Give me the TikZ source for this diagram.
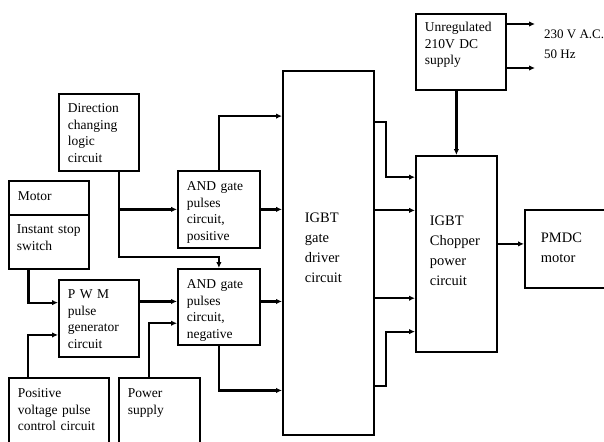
\documentclass[tikz,border=0pt]{standalone}
\usepackage{fontspec}
\setmainfont{Liberation Serif}
\usetikzlibrary{arrows.meta,positioning,calc}

\newcommand{\fsSmall}{\fontsize{13.5}{16.5}\selectfont}
\newcommand{\fsBig}{\fontsize{14.5}{20}\selectfont}

\begin{document}
\begin{tikzpicture}[x=1pt,y=1pt,
    blk/.style={draw,line width=1.8pt,anchor=north west,align=left,inner ysep=0pt,inner xsep=9pt,font=\fsSmall},
    arr/.style={-{Latex[length=6pt,width=5.5pt]},line width=2.2pt}
  ]
  \useasboundingbox (0,0) rectangle (604,-441);

  % left column
  \node[blk,text width=62pt,text height=19pt,text depth=58pt] (dir) at (58,-93) {Direction\\changing\\logic\\circuit};
  \node[blk,text width=62pt,text height=20pt,text depth=14pt] (mot) at (8,-180) {Motor};
  \node[blk,inner xsep=8pt,text width=64pt,text height=19pt,text depth=35pt] (sw) at (8,-214) {Instant stop\\switch};
  \node[blk,text width=62pt,text height=19pt,text depth=58pt] (pwm) at (58,-279) {P W M\\pulse\\generator\\circuit};
  \node[blk,text width=82pt,text height=20pt,text depth=80pt] (pos) at (8,-377) {Positive\\voltage pulse\\control circuit};
  \node[blk,text width=63pt,text height=20pt,text depth=80pt] (psu) at (118,-377) {Power\\supply};

  % gates and driver
  \node[blk,text width=64pt,text height=20pt,text depth=57pt] (andp) at (177,-170) {AND gate\\pulses\\circuit,\\positive};
  \node[blk,text width=64pt,text height=20pt,text depth=56pt] (andn) at (177,-268) {AND gate\\pulses\\circuit,\\negative};
  \node[blk,inner xsep=22pt,text width=47pt,text height=152pt,text depth=212pt,font=\fsBig] (drv) at (282,-70) {IGBT\\gate\\driver\\circuit};

  % power side
  \node[blk,text width=72pt,text height=18pt,text depth=58pt] (unr) at (415,-13) {Unregulated\\210V DC\\supply};
  \node[blk,inner xsep=14pt,text width=53pt,text height=70pt,text depth=126pt,font=\fsBig] (chop) at (415,-155) {IGBT\\Chopper\\power\\circuit};
  \node[blk,inner xsep=16pt,text width=68pt,text height=33pt,text depth=45pt,font=\fsBig] (pmdc) at (524,-209) {PMDC\\motor};
  \node[anchor=north west,inner sep=0pt,align=left,font=\fontsize{13}{20}\selectfont] (ac) at (544,-30) {230 V A.C.\\50 Hz};

  % direction logic to both gates
  \coordinate (d0) at ($(dir.south)!0.5!(dir.south east)$);
  \draw[arr] (d0) |- (andp.west);
  \draw[arr] (d0) |- ($(andn.north)+(0,11)$) -- (andn.north);

  % inputs of the PWM generator
  \draw[arr] ($(sw.south west)!0.25!(sw.south east)$) |- ($(pwm.north west)!0.3!(pwm.south west)$);
  \draw[arr] ($(pos.north west)!0.2!(pos.north east)$) |- ($(pwm.north west)!0.71!(pwm.south west)$);

  % inputs of the negative gate
  \coordinate (n1) at ($(andn.north west)!0.43!(andn.south west)$);
  \draw[arr] (pwm.east |- n1) -- (n1);
  \draw[arr] ($(psu.north west)!0.37!(psu.north east)$) |- ($(andn.north west)!0.71!(andn.south west)$);

  % gates to driver
  \draw[arr] (andp.north) |- ($(drv.north west)!0.126!(drv.south west)$);
  \draw[arr] (andp.east) -- (andp.east -| drv.west);
  \draw[arr] (n1 -| andn.east) -- (n1 -| drv.west);
  \draw[arr] (andn.south) |- ($(drv.north west)!0.876!(drv.south west)$);

  % driver to chopper
  \coordinate (c1) at ($(chop.north west)!0.112!(chop.south west)$);
  \coordinate (c2) at ($(chop.north west)!0.28!(chop.south west)$);
  \coordinate (c3) at ($(chop.north west)!0.724!(chop.south west)$);
  \coordinate (c4) at ($(chop.north west)!0.893!(chop.south west)$);
  \draw[arr] ($(drv.north east)!0.143!(drv.south east)$) -- ++(11,0) |- (c1);
  \draw[arr] (drv.east |- c2) -- (c2);
  \draw[arr] (drv.east |- c3) -- (c3);
  \draw[arr] ($(drv.north east)!0.863!(drv.south east)$) -- ++(11,0) |- (c4);

  % supply and motor
  \coordinate (acA) at (535,-24);
  \coordinate (acB) at (535,-68);
  \draw[arr] (unr.east |- acA) -- (acA);
  \draw[arr] (unr.east |- acB) -- (acB);
  \draw[arr] (chop.north |- unr.south) -- (chop.north);
  \coordinate (pm) at ($(pmdc.west)+(0,5)$);
  \draw[arr] (chop.east |- pm) -- (pm);
\end{tikzpicture}
\end{document}
